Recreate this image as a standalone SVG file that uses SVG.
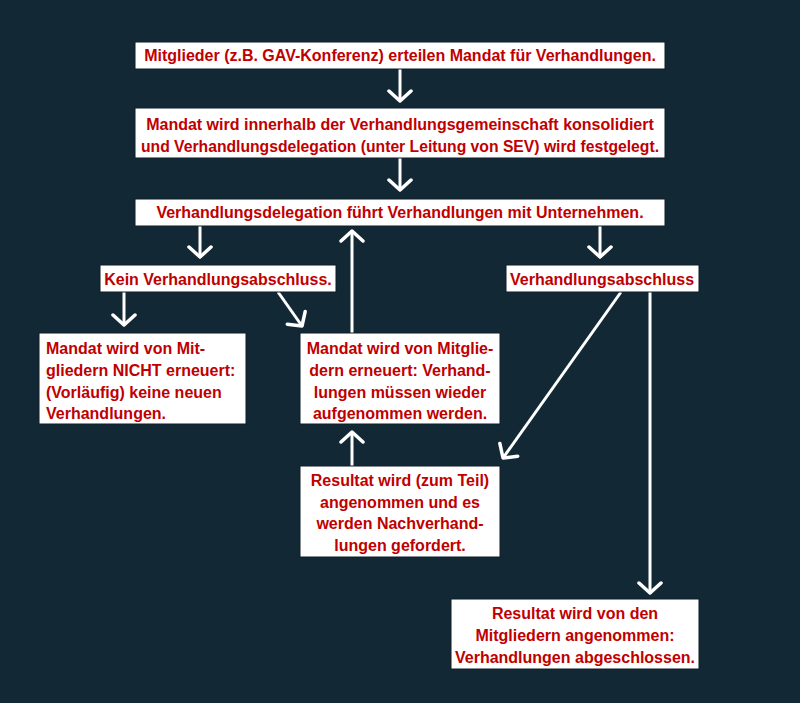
<svg xmlns="http://www.w3.org/2000/svg" width="800" height="703" viewBox="0 0 800 703">
<defs>
<marker id="ah" viewBox="0 0 14 26" refX="12" refY="13" markerWidth="14" markerHeight="26" markerUnits="userSpaceOnUse" orient="auto">
<path d="M2,2 L12,13 L2,24" fill="none" stroke="#ffffff" stroke-width="3.5" stroke-linecap="round" stroke-linejoin="round"/>
</marker>
<style>
.box{fill:#ffffff;stroke:#0c1c26;stroke-width:1}
.t{font-family:"Liberation Sans",Arial,sans-serif;font-weight:bold;font-size:16px;fill:#c00000;text-anchor:middle}
.l{text-anchor:start}
.c{fill:none;stroke:#ffffff;stroke-width:3;marker-end:url(#ah)}
</style>
</defs>
<rect width="800" height="703" fill="#132835"/>
<g id="connectors">
<line class="c" x1="400" y1="69" x2="400" y2="101"/>
<line class="c" x1="400" y1="158" x2="400" y2="190"/>
<line class="c" x1="200" y1="226" x2="200" y2="257"/>
<line class="c" x1="600" y1="226" x2="600" y2="257"/>
<line class="c" x1="352" y1="333" x2="352" y2="231"/>
<line class="c" x1="124" y1="292" x2="124" y2="325"/>
<line class="c" x1="278" y1="292" x2="302" y2="326"/>
<line class="c" x1="352" y1="466" x2="352" y2="432"/>
<line class="c" x1="621" y1="292" x2="503" y2="458"/>
<line class="c" x1="650" y1="292" x2="650" y2="593"/>
</g>
<g id="n1">
<rect class="box" x="135" y="42" width="530" height="27"/>
<text class="t" x="400" y="61">Mitglieder (z.B. GAV-Konferenz) erteilen Mandat für Verhandlungen.</text>
</g>
<g id="n2">
<rect class="box" x="135" y="108" width="530" height="50"/>
<text class="t" x="400" y="130">Mandat wird innerhalb der Verhandlungsgemeinschaft konsolidiert</text>
<text class="t" x="400" y="152" textLength="518" lengthAdjust="spacingAndGlyphs">und Verhandlungsdelegation (unter Leitung von SEV) wird festgelegt.</text>
</g>
<g id="n3">
<rect class="box" x="135" y="199" width="530" height="27"/>
<text class="t" x="400" y="218">Verhandlungsdelegation führt Verhandlungen mit Unternehmen.</text>
</g>
<g id="n4">
<rect class="box" x="100" y="265" width="236" height="27"/>
<text class="t" x="218" y="285">Kein Verhandlungsabschluss.</text>
</g>
<g id="n5">
<rect class="box" x="506" y="265" width="193" height="27"/>
<text class="t" x="602" y="285">Verhandlungsabschluss</text>
</g>
<g id="n6">
<rect class="box" x="39" y="333" width="207" height="91"/>
<text class="t l" x="46" y="354">Mandat wird von Mit-</text>
<text class="t l" x="46" y="376">gliedern NICHT erneuert:</text>
<text class="t l" x="46" y="398">(Vorläufig) keine neuen</text>
<text class="t l" x="46" y="419">Verhandlungen.</text>
</g>
<g id="n7">
<rect class="box" x="300" y="333" width="200" height="91"/>
<text class="t" x="400" y="354">Mandat wird von Mitglie-</text>
<text class="t" x="400" y="376">dern erneuert: Verhand-</text>
<text class="t" x="400" y="398">lungen müssen wieder</text>
<text class="t" x="400" y="419">aufgenommen werden.</text>
</g>
<g id="n8">
<rect class="box" x="300" y="466" width="200" height="91"/>
<text class="t" x="400" y="486">Resultat wird (zum Teil)</text>
<text class="t" x="400" y="508">angenommen und es</text>
<text class="t" x="400" y="529">werden Nachverhand-</text>
<text class="t" x="400" y="551">lungen gefordert.</text>
</g>
<g id="n9">
<rect class="box" x="451" y="599" width="248" height="70"/>
<text class="t" x="575" y="619">Resultat wird von den</text>
<text class="t" x="575" y="641">Mitgliedern angenommen:</text>
<text class="t" x="575" y="663">Verhandlungen abgeschlossen.</text>
</g>
</svg>
